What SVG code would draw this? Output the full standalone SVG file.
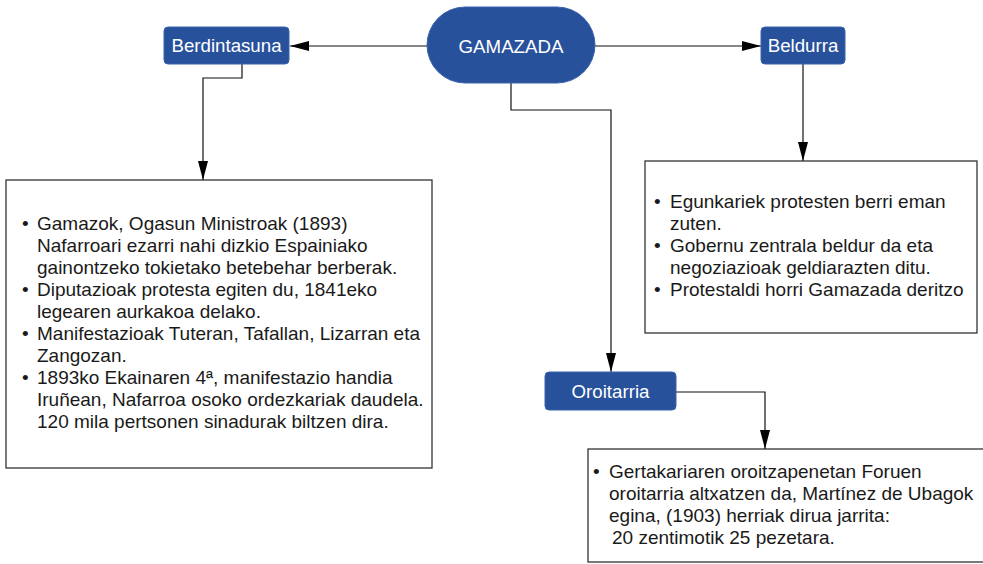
<svg xmlns="http://www.w3.org/2000/svg" width="983" height="564" viewBox="0 0 983 564">
<defs>
<style>
.node{fill:#28519c;stroke:#3a63ad;stroke-width:1}
.lbl{font-family:"Liberation Sans",Arial,sans-serif;font-size:18.7px;fill:#ffffff;text-anchor:middle}
.box{fill:#ffffff;stroke:#222222;stroke-width:1.2}
.txt{font-family:"Liberation Sans",Arial,sans-serif;font-size:19px;fill:#1a1a1a}
.con{fill:none;stroke:#111111;stroke-width:1.2}
</style>
<marker id="arr" markerUnits="userSpaceOnUse" markerWidth="20" markerHeight="11" refX="19" refY="5" orient="auto">
<path d="M0,0 L19,5 L0,10 z" fill="#000000"/>
</marker>
</defs>
<rect width="983" height="564" fill="#ffffff"/>
<g id="connectors">
<path class="con" d="M427,46 L290,46" marker-end="url(#arr)"/>
<path class="con" d="M595,46 L761,46" marker-end="url(#arr)"/>
<path class="con" d="M242,64 L242,78 L203,78 L203,180" marker-end="url(#arr)"/>
<path class="con" d="M803,64 L803,161" marker-end="url(#arr)"/>
<path class="con" d="M511,83 L511,110 L611,110 L611,372" marker-end="url(#arr)"/>
<path class="con" d="M676,392 L765,392 L765,449" marker-end="url(#arr)"/>
</g>
<g id="gamazada">
<rect class="node" x="427" y="7" width="168" height="76" rx="38"/>
<text class="lbl" x="511" y="52.5">GAMAZADA</text>
</g>
<g id="berdintasuna">
<rect class="node" x="164" y="27" width="125" height="37" rx="4"/>
<text class="lbl" x="226.5" y="52">Berdintasuna</text>
</g>
<g id="beldurra">
<rect class="node" x="761" y="27" width="84" height="37" rx="4"/>
<text class="lbl" x="803" y="52">Beldurra</text>
</g>
<g id="oroitarria">
<rect class="node" x="545" y="372" width="131" height="38" rx="4"/>
<text class="lbl" x="610.5" y="397.5">Oroitarria</text>
</g>
<g id="box-berdintasuna">
<rect class="box" x="6" y="180" width="426" height="288"/>
<text class="txt" x="22" y="230">•</text>
<text class="txt" x="37" y="230">Gamazok, Ogasun Ministroak (1893)</text>
<text class="txt" x="37" y="252">Nafarroari ezarri nahi dizkio Espainiako</text>
<text class="txt" x="37" y="274">gainontzeko tokietako betebehar berberak.</text>
<text class="txt" x="22" y="296">•</text>
<text class="txt" x="37" y="296">Diputazioak protesta egiten du, 1841eko</text>
<text class="txt" x="37" y="318">legearen aurkakoa delako.</text>
<text class="txt" x="22" y="340">•</text>
<text class="txt" x="37" y="340">Manifestazioak Tuteran, Tafallan, Lizarran eta</text>
<text class="txt" x="37" y="362">Zangozan.</text>
<text class="txt" x="22" y="384">•</text>
<text class="txt" x="37" y="384">1893ko Ekainaren 4ª, manifestazio handia</text>
<text class="txt" x="37" y="406">Iruñean, Nafarroa osoko ordezkariak daudela.</text>
<text class="txt" x="37" y="428">120 mila pertsonen sinadurak biltzen dira.</text>
</g>
<g id="box-beldurra">
<rect class="box" x="645" y="161" width="332" height="172"/>
<text class="txt" x="654" y="208">•</text>
<text class="txt" x="670" y="208">Egunkariek protesten berri eman</text>
<text class="txt" x="670" y="230">zuten.</text>
<text class="txt" x="654" y="252">•</text>
<text class="txt" x="670" y="252">Gobernu zentrala beldur da eta</text>
<text class="txt" x="670" y="274">negoziazioak geldiarazten ditu.</text>
<text class="txt" x="654" y="296">•</text>
<text class="txt" x="670" y="296">Protestaldi horri Gamazada deritzo</text>
</g>
<g id="box-oroitarria">
<rect class="box" x="588" y="449" width="410" height="113"/>
<text class="txt" x="593" y="478">•</text>
<text class="txt" x="609" y="478">Gertakariaren oroitzapenetan Foruen</text>
<text class="txt" x="609" y="500">oroitarria altxatzen da, Martínez de Ubagok</text>
<text class="txt" x="609" y="522">egina, (1903) herriak dirua jarrita:</text>
<text class="txt" x="612" y="544">20 zentimotik 25 pezetara.</text>
</g>
</svg>
